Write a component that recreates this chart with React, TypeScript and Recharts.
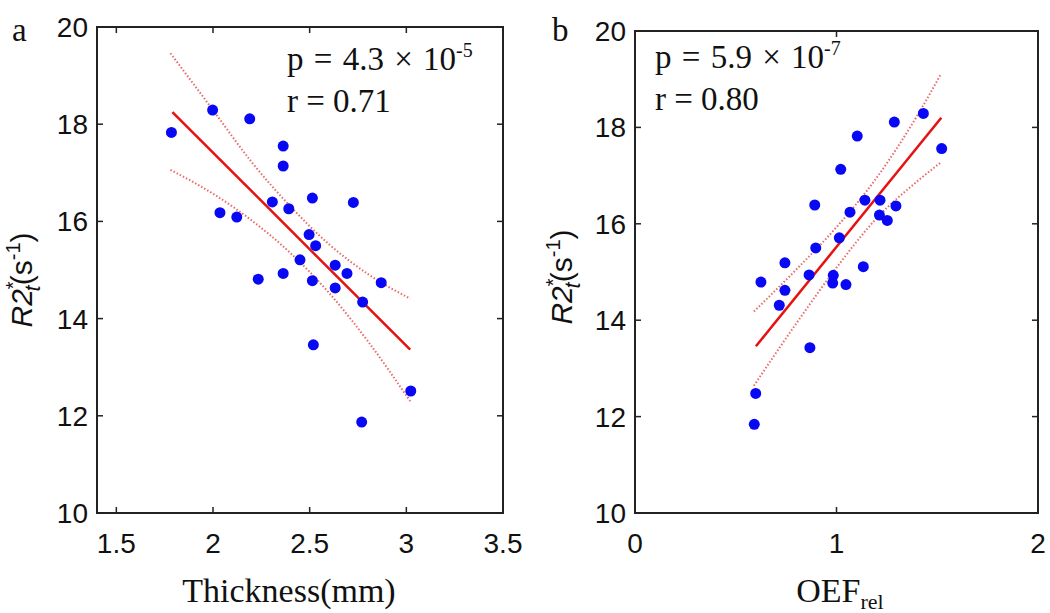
import React from 'react';
import { ComposedChart, Scatter, Line, XAxis, YAxis } from 'recharts';

// panel a: cortical thickness vs R2*t
const thicknessX = [1.785, 1.998, 2.19, 2.363, 2.363, 2.036, 2.123, 2.307, 2.392, 2.514, 2.726, 2.497, 2.531, 2.45, 2.632, 2.693, 2.363, 2.234, 2.514, 2.632, 2.87, 2.774, 2.519, 3.023, 2.769];
const thicknessR2 = [17.83, 18.29, 18.11, 17.55, 17.14, 16.18, 16.09, 16.4, 16.26, 16.48, 16.39, 15.73, 15.5, 15.21, 15.1, 14.93, 14.93, 14.81, 14.78, 14.63, 14.74, 14.34, 13.46, 12.51, 11.87];
const fitAX = [1.79, 3.02];
const fitAY = [18.25, 13.36];
const bandAX = [1.78, 2.0, 2.2, 2.4, 2.6, 2.8, 3.02];
const bandAUpper = [19.46, 18.29, 17.22, 16.31, 15.53, 14.92, 14.41];
const bandALower = [17.06, 16.57, 16.02, 15.35, 14.53, 13.54, 12.3];

// panel b: OEF_rel vs R2*t
const oefX = [1.431, 1.287, 1.103, 1.522, 1.021, 0.892, 1.141, 1.216, 1.295, 1.067, 1.213, 1.252, 1.014, 0.897, 0.744, 1.133, 0.864, 0.984, 0.625, 0.981, 1.047, 0.744, 0.716, 0.868, 0.599, 0.592];
const oefR2 = [18.29, 18.11, 17.82, 17.56, 17.13, 16.39, 16.49, 16.49, 16.37, 16.24, 16.18, 16.07, 15.71, 15.5, 15.19, 15.11, 14.94, 14.93, 14.79, 14.77, 14.74, 14.62, 14.31, 13.43, 12.48, 11.84];
const fitBX = [0.6, 1.52];
const fitBY = [13.46, 18.2];
const bandBX = [0.59, 0.8, 1.0, 1.2, 1.4, 1.52];
const bandBUpper = [14.18, 15.05, 15.93, 16.96, 18.24, 19.12];
const bandBLower = [12.64, 13.93, 15.09, 16.12, 16.88, 17.28];

const xTicksA = [1.5, 2, 2.5, 3, 3.5];
const xTicksB = [0, 1, 2];
const yTicks = [10, 12, 14, 16, 18, 20];
const yDomain: [number, number] = [10, 20];

const SANS = '"Liberation Sans", Arial, sans-serif';
const SERIF = '"Liberation Serif", "Times New Roman", serif';
const AXIS = '#222';
const BLUE = '#0808f4';
const RED = '#e81010';
const BAND = '#e86a6a';
const CHART_H = 613;
const PLOT_BOTTOM = 513; // CHART_H - bottom margin 40 - x axis height 60

type Pt = { x: number; y: number };

const zip = (xs: number[], ys: number[]): Pt[] => xs.map((x, i) => ({ x, y: ys[i] }));

const Dot = (props: any) => <circle cx={props.cx} cy={props.cy} r={5.5} fill={BLUE} />;

const XTick = (props: any) => (
  <text x={props.x} y={props.y + 40} textAnchor="middle" fontFamily={SANS} fontSize={28} fill="#111">{props.payload.value}</text>
);

const YTick = (props: any) => (
  <text x={props.x - 9} y={props.y + 10} textAnchor="end" fontFamily={SANS} fontSize={28} fill="#111">{props.payload.value}</text>
);

type PanelProps = {
  left: number;
  width: number;
  marginTop: number;
  marginRight: number;
  yAxisWidth: number;
  xDomain: [number, number];
  xTicks: number[];
  points: Pt[];
  fit: Pt[];
  upper: Pt[];
  lower: Pt[];
};

const Panel = (p: PanelProps) => (
  <div style={{ position: 'absolute', left: p.left, top: 0 }}>
    <ComposedChart width={p.width} height={CHART_H} margin={{ top: p.marginTop, right: p.marginRight, bottom: 40, left: 0 }}>
      <XAxis type="number" dataKey="x" domain={p.xDomain} ticks={p.xTicks} interval={0} height={60}
        stroke={AXIS} tickLine={false} tickSize={0} tickMargin={0} tick={XTick} />
      <YAxis type="number" domain={yDomain} ticks={yTicks} interval={0} width={p.yAxisWidth}
        stroke={AXIS} tickLine={false} tickSize={0} tickMargin={0} tick={YTick} />
      <Line data={p.upper} dataKey="y" type="monotone" dot={false} stroke={BAND} strokeWidth={2}
        strokeDasharray="1.5 2" isAnimationActive={false} />
      <Line data={p.lower} dataKey="y" type="monotone" dot={false} stroke={BAND} strokeWidth={2}
        strokeDasharray="1.5 2" isAnimationActive={false} />
      <Line data={p.fit} dataKey="y" type="linear" dot={false} stroke={RED} strokeWidth={2.5} isAnimationActive={false} />
      <Scatter data={p.points} dataKey="y" shape={Dot} isAnimationActive={false} />
    </ComposedChart>
  </div>
);

// box with inward ticks on all four sides, laid over the chart on the same plot rectangle
const Frame = ({ left, right, top, xDomain, xTicks }: { left: number; right: number; top: number; xDomain: [number, number]; xTicks: number[] }) => {
  const sx = (v: number) => left + ((v - xDomain[0]) / (xDomain[1] - xDomain[0])) * (right - left);
  const sy = (v: number) => PLOT_BOTTOM - ((v - yDomain[0]) / (yDomain[1] - yDomain[0])) * (PLOT_BOTTOM - top);
  return (
    <g stroke={AXIS} fill="none">
      <rect x={left} y={top} width={right - left} height={PLOT_BOTTOM - top} strokeWidth={2} />
      {xTicks.map((t) => (
        <g key={`x${t}`} strokeWidth={1.5}>
          <line x1={sx(t)} y1={PLOT_BOTTOM} x2={sx(t)} y2={PLOT_BOTTOM - 6} />
          <line x1={sx(t)} y1={top} x2={sx(t)} y2={top + 6} />
        </g>
      ))}
      {yTicks.map((t) => (
        <g key={`y${t}`} strokeWidth={1.5}>
          <line x1={left} y1={sy(t)} x2={left + 6} y2={sy(t)} />
          <line x1={right} y1={sy(t)} x2={right - 6} y2={sy(t)} />
        </g>
      ))}
    </g>
  );
};

const YTitle = ({ cx, cy }: { cx: number; cy: number }) => (
  <text x={cx} y={cy} transform={`rotate(-90, ${cx}, ${cy})`} textAnchor="middle" fontFamily={SANS} fontSize={30} fill="#111">
    <tspan fontStyle="italic">R2</tspan>
    <tspan fontSize={20} dy={-12}>*</tspan>
    <tspan fontSize={22} fontStyle="italic" dx={-10} dy={20}>t</tspan>
    <tspan dy={-8}>(s</tspan>
    <tspan fontSize={20} dy={-12}>-1</tspan>
    <tspan dy={12}>)</tspan>
  </text>
);

const Stats = ({ x, y, p, exp, r }: { x: number; y: number; p: string; exp: string; r: string }) => (
  <g fontFamily={SERIF} fontSize={33} fill="#111">
    <text x={x} y={y} wordSpacing={2}>
      p = {p} × 10<tspan fontSize={20} dy={-13}>{exp}</tspan>
    </text>
    <text x={x} y={y + 42}>r = {r}</text>
  </g>
);

export default function App() {
  return (
    <div style={{ position: 'absolute', left: 0, top: 0, width: 1050, height: 613, background: '#fff' }}>
      <Panel left={0} width={540} marginTop={27} marginRight={37} yAxisWidth={97} xDomain={[1.4, 3.5]} xTicks={xTicksA}
        points={zip(thicknessX, thicknessR2)} fit={zip(fitAX, fitAY)}
        upper={zip(bandAX, bandAUpper)} lower={zip(bandAX, bandALower)} />
      <Panel left={530} width={520} marginTop={31} marginRight={12} yAxisWidth={105} xDomain={[0, 2]} xTicks={xTicksB}
        points={zip(oefX, oefR2)} fit={zip(fitBX, fitBY)}
        upper={zip(bandBX, bandBUpper)} lower={zip(bandBX, bandBLower)} />
      <svg width={1050} height={613} style={{ position: 'absolute', left: 0, top: 0, pointerEvents: 'none' }}>
        <Frame left={97} right={503} top={27} xDomain={[1.4, 3.5]} xTicks={xTicksA} />
        <Frame left={635} right={1038} top={31} xDomain={[0, 2]} xTicks={xTicksB} />
        <text x={12} y={41} fontFamily={SERIF} fontSize={33} fill="#111">a</text>
        <YTitle cx={32} cy={280} />
        <Stats x={287} y={70} p="4.3" exp="-5" r="0.71" />
        <text x={289} y={602} textAnchor="middle" fontFamily={SERIF} fontSize={34} fill="#111">Thickness(mm)</text>
        <text x={552} y={41} fontFamily={SERIF} fontSize={33} fill="#111">b</text>
        <YTitle cx={572} cy={277} />
        <Stats x={655} y={68} p="5.9" exp="-7" r="0.80" />
        <text x={840} y={602} textAnchor="middle" fontFamily={SERIF} fontSize={34} fill="#111">
          OEF<tspan fontSize={22} dy={7}>rel</tspan>
        </text>
      </svg>
    </div>
  );
}
